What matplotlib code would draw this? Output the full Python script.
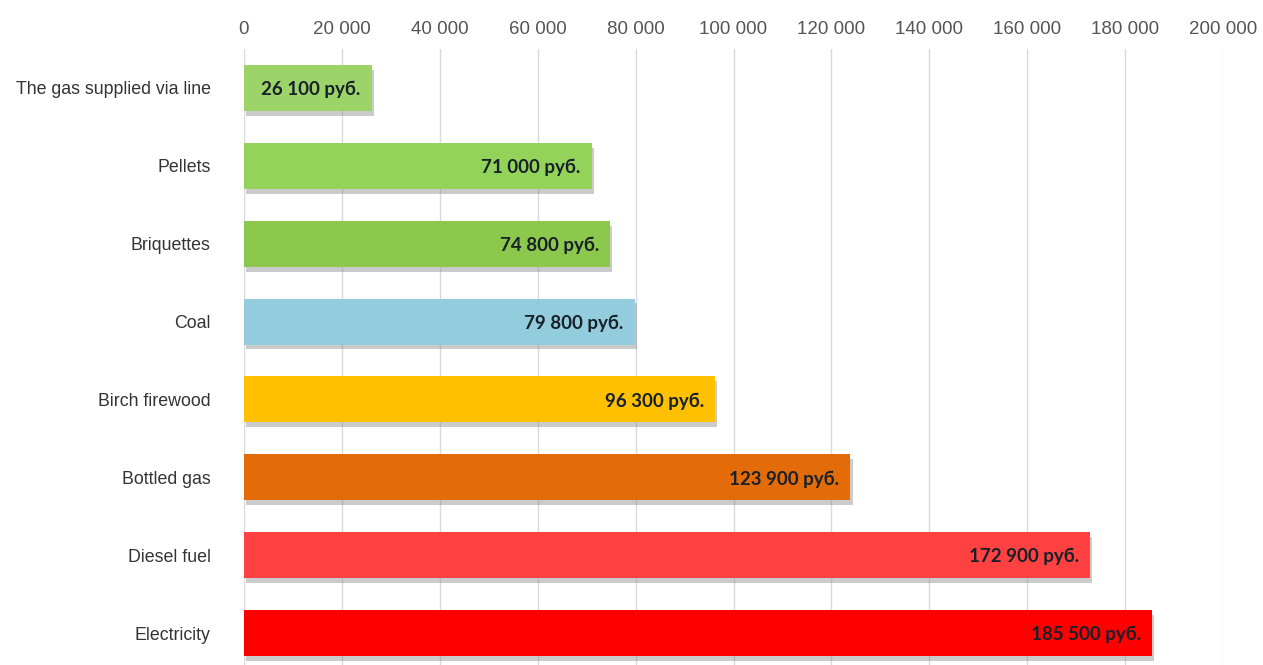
import numpy as np
import matplotlib.pyplot as plt
import matplotlib.patheffects as pe

# data
categories = ["The gas supplied via line", "Pellets", "Briquettes", "Coal",
              "Birch firewood", "Bottled gas", "Diesel fuel", "Electricity"]
costs = [26100, 71000, 74800, 79800, 96300, 123900, 172900, 185500]
labels = ["26 100 руб.", "71 000 руб.", "74 800 руб.", "79 800 руб.",
          "96 300 руб.", "123 900 руб.", "172 900 руб.", "185 500 руб."]
colors = ["#9dd46a", "#94d35a", "#8cc84b", "#93cddd",
          "#ffc000", "#e36c09", "#ff4141", "#ff0000"]
xticks = np.arange(0, 200001, 20000)
xtick_labels = ["0"] + ["{:,}".format(v).replace(",", " ") for v in xticks[1:]]

fig = plt.figure(figsize=(12.63, 6.65), dpi=100)
ax = fig.add_axes([244 / 1263, 0.0, (1223 - 244) / 1263, 1 - 49 / 665])

y = np.arange(len(categories))
bars = ax.barh(y, costs, height=0.59, color=colors, zorder=3)
for b in bars:
    b.set_path_effects([pe.SimplePatchShadow(offset=(1.5, -3.5), shadow_rgbFace="#8c8c8c", alpha=0.45),
                        pe.Normal()])

for yi, v, lab in zip(y, costs, labels):
    ax.annotate(lab, xy=(v, yi + 0.02), xytext=(-8, 0), textcoords="offset points",
                ha="right", va="center", fontsize=13.5, fontweight="bold",
                family="Lato", color="#18202a", zorder=4)

ax.set_xlim(0, 200000)
ax.set_ylim(7.41, -0.5)
ax.set_yticks(y)
ax.set_yticklabels(categories, fontsize=12.8, color="#333333", family="Liberation Sans")
ax.xaxis.tick_top()
ax.set_xticks(xticks)
ax.set_xticklabels(xtick_labels, fontsize=13.5, color="#555555", family="Liberation Sans")
ax.tick_params(axis="both", length=0)
ax.tick_params(axis="x", pad=8)
ax.tick_params(axis="y", pad=24)
ax.grid(axis="x", color="#d9d9d9", linewidth=1, zorder=0)
for s in ax.spines.values():
    s.set_visible(False)

fig.savefig("out.png", dpi=100)
